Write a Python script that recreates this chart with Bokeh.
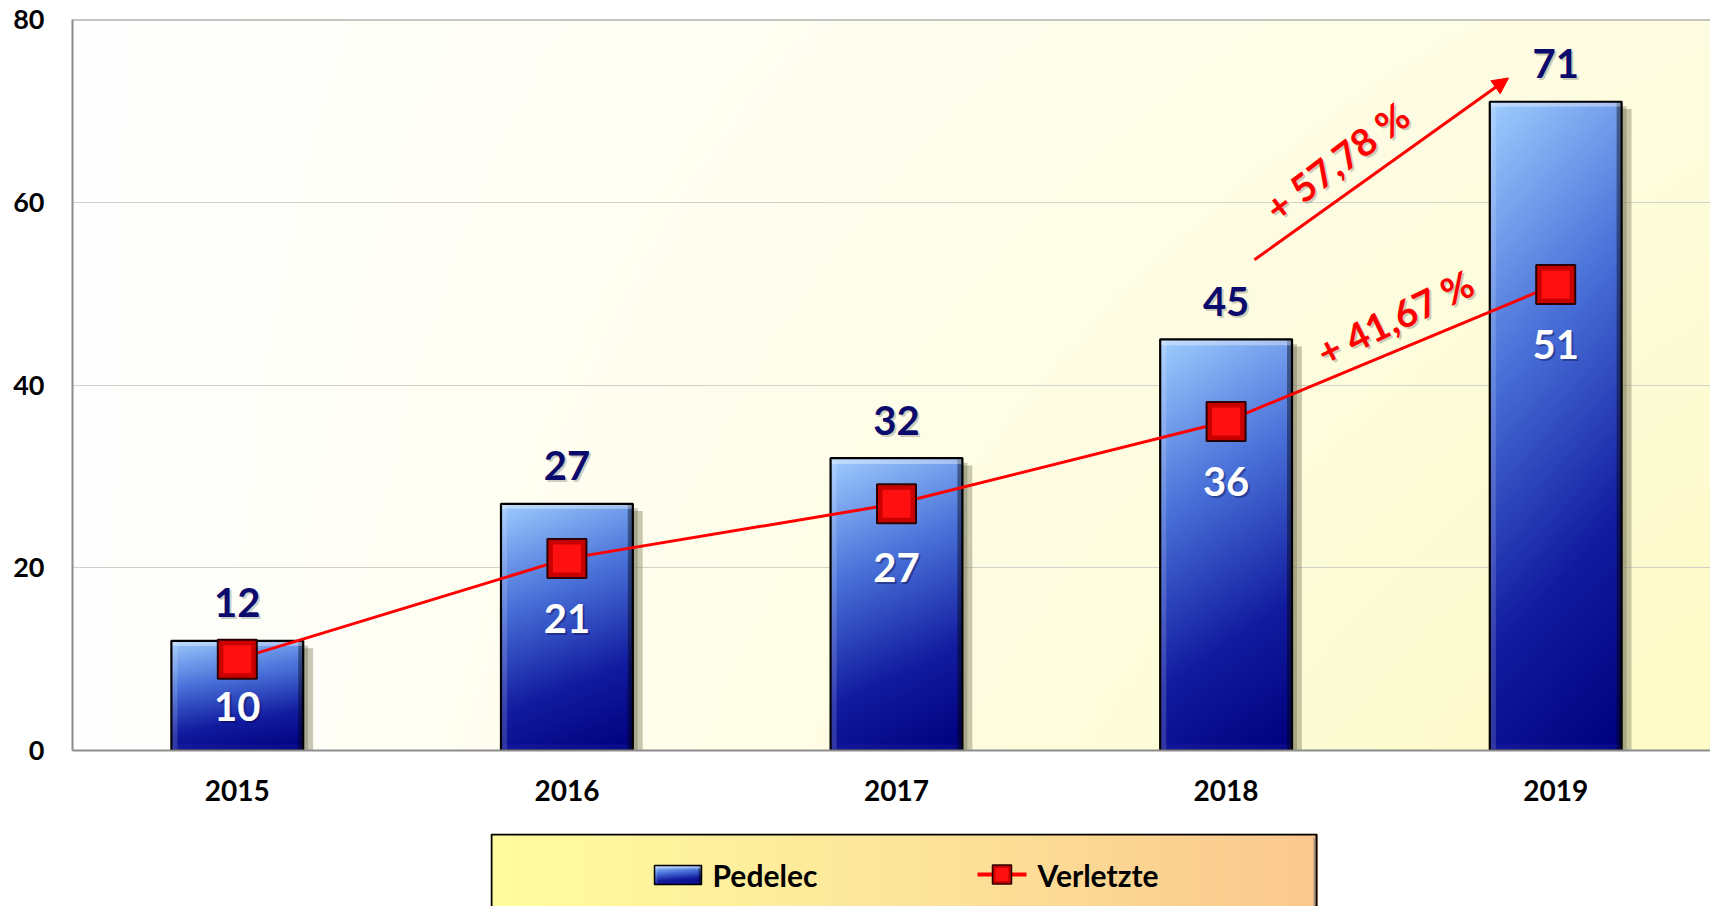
import numpy as np
from bokeh.plotting import figure
from bokeh.models import Range1d, FixedTicker, ColumnDataSource, Span, Arrow, NormalHead, Spacer
from bokeh.layouts import column, row
from bokeh.core.properties import value
from bokeh.embed import file_html
from bokeh.resources import INLINE

# ---------------- data ----------------
years = [2015, 2016, 2017, 2018, 2019]
pedelec = [12, 27, 32, 45, 71]
verletzte = [10, 21, 27, 36, 51]
y_ticks = [0, 20, 40, 60, 80]
series_names = ["Pedelec", "Verletzte"]

# ---------------- styles ----------------
FONT = "Lato"
NAVY = "#0b0b6e"
RED = "#ff0000"
BAR_W = 0.4
PX_PER_UNIT = 731 / 80.0
PX_PER_CAT = 329.6
white_label_dy = [47, 60, 64, 60, 60]


def lerp_stops(t, stops):
    t = np.clip(t, 0, 1)
    pos = np.array([s[0] for s in stops])
    out = np.zeros(t.shape + (3,))
    for c in range(3):
        out[..., c] = np.interp(t, pos, [s[1][c] for s in stops])
    return out


def pack(rgb, alpha=255):
    h, w, _ = rgb.shape
    arr = np.zeros((h, w, 4), dtype=np.uint8)
    arr[..., :3] = np.clip(rgb, 0, 255).astype(np.uint8)
    arr[..., 3] = alpha
    return arr.view(np.uint32).reshape(h, w)


def bar_image(wpx, hpx, bevel=6):
    wpx = max(int(wpx), 4)
    hpx = max(int(hpx), 4)
    fy = np.arange(hpx)[:, None] / max(hpx - 1, 1)  # 0 bottom -> 1 top
    fx = np.arange(wpx)[None, :] / max(wpx - 1, 1)
    t = 0.82 * fy + 0.18 * (1 - fx)
    stops = [(0.0, (0, 0, 125)), (0.3, (18, 28, 160)), (0.65, (75, 115, 218)), (1.0, (160, 205, 255))]
    rgb = lerp_stops(np.broadcast_to(t, (hpx, wpx)), stops)
    yy = np.arange(hpx)[:, None] * np.ones((1, wpx))
    xx = np.ones((hpx, 1)) * np.arange(wpx)[None, :]
    top = yy >= hpx - bevel
    right = xx >= wpx - bevel
    left = xx < bevel
    bottom = yy < bevel
    white = np.array([255, 255, 255])
    black = np.array([0, 0, 0])
    rgb = np.where(left[..., None], rgb * 0.85 + white * 0.15, rgb)
    rgb = np.where(bottom[..., None], rgb * 0.85 + np.array([60, 70, 200]) * 0.15, rgb)
    rgb = np.where(right[..., None], rgb * 0.6 + black * 0.4, rgb)
    rgb = np.where(top[..., None], rgb * 0.65 + white * 0.35, rgb)
    return pack(rgb)


# ---------------- main figure ----------------
FIG_W, BL, BT, BB = 1710, 72, 19, 83
FIG_H = BT + 731 + BB
x_lo = years[0] - 0.5
x_hi = x_lo + (FIG_W - BL) / PX_PER_CAT
p = figure(width=FIG_W, height=FIG_H, x_range=Range1d(x_lo, x_hi), y_range=Range1d(0, 80),
           output_backend="svg", toolbar_location=None,
           min_border_left=BL, min_border_right=0, min_border_top=BT, min_border_bottom=BB)
p.background_fill_color = "white"
p.border_fill_color = "white"
p.outline_line_color = None

# background gradient
gh, gw = 120, 240
gy = np.arange(gh)[:, None] / (gh - 1)
gx = np.arange(gw)[None, :] / (gw - 1)
tg = np.clip(gx * (0.55 + 0.5 * (1 - gy)), 0, 1)
bg = lerp_stops(np.broadcast_to(tg, (gh, gw)), [(0, (255, 255, 255)), (1, (253, 251, 200))])
p.image_rgba(image=[pack(bg)], x=x_lo, y=0, dw=x_hi - x_lo, dh=80, level="image")

p.ygrid.grid_line_color = "#d2d2c8"
p.ygrid.grid_line_width = 1
p.xgrid.grid_line_color = None
p.add_layout(Span(location=80, dimension="width", line_color="#8c8c8c", line_width=2))

# axes
p.yaxis.ticker = FixedTicker(ticks=y_ticks)
p.xaxis.ticker = FixedTicker(ticks=years)
for ax in (p.xaxis, p.yaxis):
    ax.axis_line_color = "#8c8c8c"
    ax.axis_line_width = 2
    ax.major_tick_line_color = None
    ax.minor_tick_line_color = None
    ax.major_tick_out = 0
    ax.major_tick_in = 0
    ax.major_label_text_font = FONT
    ax.major_label_text_font_style = "bold"
    ax.major_label_text_color = "black"
p.yaxis.major_label_text_font_size = "27px"
p.xaxis.major_label_text_font_size = "28px"
p.yaxis.major_label_standoff = 28
p.xaxis.major_label_standoff = 29

yrs = np.array(years, dtype=float)
ped = np.array(pedelec, dtype=float)

# bar shadows
p.quad(left=yrs + BAR_W / 2, right=yrs + BAR_W / 2 + 0.03, bottom=0, top=ped - 0.8,
       fill_color="#8a8866", fill_alpha=0.45, line_alpha=0)
p.quad(left=yrs + BAR_W / 2, right=yrs + BAR_W / 2 + 0.015, bottom=0, top=ped - 0.5,
       fill_color="#6a684c", fill_alpha=0.35, line_alpha=0)

# gradient bars
imgs = [bar_image(BAR_W * PX_PER_CAT, v * PX_PER_UNIT) for v in pedelec]
p.image_rgba(image=imgs, x=list(yrs - BAR_W / 2), y=[0] * len(years), dw=[BAR_W] * len(years), dh=pedelec)
p.vbar(x=years, width=BAR_W, top=pedelec, fill_alpha=0, line_color="black", line_width=2.2)

# line series
p.line(years, verletzte, line_color=RED, line_width=3)
p.scatter(years, verletzte, marker="square", size=39, fill_color="#c80000", line_color="#2a0000", line_width=2)
p.scatter(years, verletzte, marker="square", size=28, fill_color="#ff1010", line_alpha=0)

# labels
src = ColumnDataSource(dict(x=years, ped=pedelec, ver=verletzte,
                            ped_t=[str(v) for v in pedelec], ver_t=[str(v) for v in verletzte],
                            dy=white_label_dy, dy2=[d + 2 for d in white_label_dy]))
common = dict(text_font=value(FONT), text_font_style="bold", text_align="center", text_baseline="middle",
              text_font_size="40px")
p.text(x="x", y="ped", text="ped_t", source=src, text_color="#000000", text_alpha=0.2,
       x_offset=2, y_offset=-36, **common)
p.text(x="x", y="ped", text="ped_t", source=src, text_color=NAVY, y_offset=-38, **common)
p.text(x="x", y="ver", text="ver_t", source=src, text_color="#000030", text_alpha=0.35,
       x_offset=2, y_offset="dy2", **common)
p.text(x="x", y="ver", text="ver_t", source=src, text_color="white", y_offset="dy", **common)


def pct(a, b):
    return "+ " + f"{(b - a) / a * 100:.2f}".replace(".", ",") + " %"


# growth arrow Pedelec 2018 -> 2019
ax0, ay0 = years[3] + 0.086, pedelec[3] + 8.7
ax1, ay1 = years[4] - 0.143, pedelec[4] + 2.6
p.add_layout(Arrow(end=NormalHead(size=16, fill_color=RED, line_color=RED),
                   x_start=ax0, y_start=ay0, x_end=ax1, y_end=ay1, line_color=RED, line_width=3))
ann = dict(text_font=value(FONT), text_font_style="bold", text_align="center", text_baseline="middle",
           text_font_size="38px", angle_units="deg")
mx, my = (ax0 + ax1) / 2, (ay0 + ay1) / 2
t1 = pct(pedelec[3], pedelec[4])
p.text(x=[mx], y=[my], text=[t1], angle=37, x_offset=-43, y_offset=-6, text_color="#000000", text_alpha=0.2, **ann)
p.text(x=[mx], y=[my], text=[t1], angle=37, x_offset=-45, y_offset=-8, text_color=RED, **ann)
lx, ly = (years[3] + years[4]) / 2, (verletzte[3] + verletzte[4]) / 2
t2 = pct(verletzte[3], verletzte[4])
p.text(x=[lx], y=[ly], text=[t2], angle=26, x_offset=6, y_offset=-34, text_color="#000000", text_alpha=0.2, **ann)
p.text(x=[lx], y=[ly], text=[t2], angle=26, x_offset=4, y_offset=-36, text_color=RED, **ann)

# ---------------- legend figure ----------------
LW, LH = 828, 73
lf = figure(width=LW, height=LH, x_range=Range1d(0, LW), y_range=Range1d(0, LH),
            output_backend="svg", toolbar_location=None, min_border=0,
            x_axis_type=None, y_axis_type=None)
lf.outline_line_color = None
lf.xgrid.grid_line_color = None
lf.ygrid.grid_line_color = None
lx_ = np.arange(200)[None, :] / 199
lgrad = lerp_stops(np.broadcast_to(lx_, (8, 200)),
                   [(0, (255, 253, 160)), (0.45, (253, 232, 155)), (1, (251, 200, 142))])
lf.image_rgba(image=[pack(lgrad)], x=0, y=0, dw=LW, dh=LH, level="image")
lf.multi_line(xs=[[1, 1, LW - 2, LW - 2]], ys=[[0, LH - 1, LH - 1, 0]], line_color="black", line_width=2)
lf.segment(x0=[LW - 4], y0=[0], x1=[LW - 4], y1=[LH - 4], line_color="#777777", line_width=2, line_alpha=0.6)

# legend icons
lf.image_rgba(image=[bar_image(47, 19, bevel=3)], x=164, y=22, dw=47, dh=19)
lf.quad(left=[164], right=[211], bottom=[22], top=[41], fill_alpha=0, line_color="black", line_width=1.5)
lf.segment(x0=[487], y0=[32], x1=[536], y1=[32], line_color=RED, line_width=4)
lf.scatter([511.5], [32], marker="square", size=19, fill_color="#c80000", line_color="#2a0000", line_width=1.5)
lf.scatter([511.5], [32], marker="square", size=13, fill_color="#ff1010", line_alpha=0)
lf.text(x=[222, 547], y=[32, 32], text=series_names, text_font=value(FONT), text_font_style="bold",
        text_font_size="30px", text_color="black", text_align="left", text_baseline="middle")

layout = column(p, row(Spacer(width=490, height=LH), lf))
open("out.html", "w").write(file_html(layout, INLINE))
